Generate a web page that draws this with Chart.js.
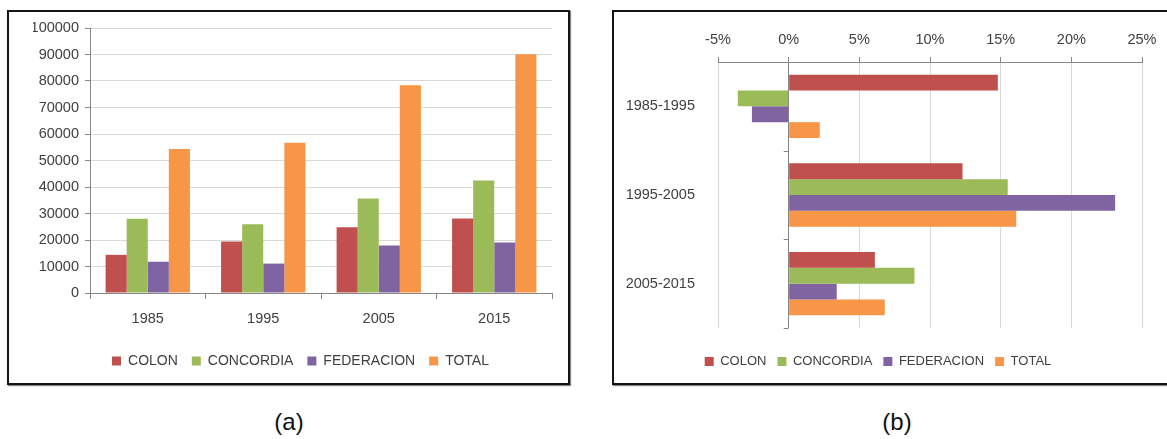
<!DOCTYPE html>
<html>
<head>
<meta charset="utf-8">
<script src="https://cdn.jsdelivr.net/npm/chart.js@4.4.1/dist/chart.umd.min.js"></script>
<style>
  html, body { margin: 0; padding: 0; background: #fff; }
  body { width: 1167px; height: 439px; overflow: hidden; position: relative; font-family: "Liberation Sans", Arial, sans-serif; }
  .box { position: absolute; top: 10px; height: 371px; border: 2px solid #141414; box-shadow: 1px 1px 1px #888; }
  #boxA { left: 7px; width: 559px; }
  #boxB { left: 612px; width: 600px; }
  .box canvas { display: block; }
  .cap { position: absolute; top: 408px; font-size: 24px; color: #111; transform: translateX(-50%); }
</style>
</head>
<body>
<div class="box" id="boxA"><canvas id="chartA" width="559" height="371"></canvas></div>
<div class="box" id="boxB"><canvas id="chartB" width="553" height="371"></canvas></div>
<div class="cap" style="left:289px">(a)</div>
<div class="cap" style="left:897px">(b)</div>
<script>
// population by year (a)
const years = ['1985', '1995', '2005', '2015'];
const colon = [14400, 19400, 24800, 28100];
const concordia = [28000, 25900, 35700, 42500];
const federacion = [11800, 11100, 17900, 19100];
const total = [54300, 56700, 78400, 90100];

// growth by period, in percent (b)
const periods = ['1985-1995', '1995-2005', '2005-2015'];
const colonPct = [14.8, 12.3, 6.1];
const concordiaPct = [-3.6, 15.5, 8.9];
const federacionPct = [-2.6, 23.1, 3.4];
const totalPct = [2.2, 16.1, 6.8];

const seriesNames = ['COLON', 'CONCORDIA', 'FEDERACION', 'TOTAL'];
const seriesColors = ['#C0504D', '#9BBB59', '#8064A2', '#F79646'];

const TEXT = '#404040';
const AXIS = '#868686';
const GRID = '#d9d9d9';
const FAMILY = '"Liberation Sans", Arial, sans-serif';
const tickFont = { family: FAMILY, size: 14.5 };

Chart.defaults.color = TEXT;
Chart.defaults.animation = false;

const makeDatasets = (arrays, catPct) => arrays.map((data, i) => ({
    label: seriesNames[i],
    data,
    backgroundColor: seriesColors[i],
    borderWidth: 0,
    barPercentage: 1,
    categoryPercentage: catPct,
}));

const legendOpts = (size, pad) => ({
    position: 'bottom',
    labels: { boxWidth: 9, boxHeight: 9, padding: pad, font: { family: FAMILY, size }, color: TEXT }
});

// empty axis used only to reserve space
const spacer = (position, size) => ({
    type: 'linear',
    position,
    grid: { display: false },
    border: { display: false },
    ticks: { display: false },
    afterFit: (s) => {
        if (position === 'left' || position === 'right') s.width = size;
        else s.height = size;
    }
});

new Chart(document.getElementById('chartA'), {
    type: 'bar',
    data: {
        labels: years,
        datasets: makeDatasets([colon, concordia, federacion, total], 0.73)
    },
    options: {
        responsive: false,
        devicePixelRatio: 1,
        layout: { padding: { top: 16, right: 0, bottom: 5, left: 24 } },
        plugins: { legend: legendOpts(14, 14), tooltip: { enabled: false } },
        scales: {
            x: {
                grid: { drawOnChartArea: false, offset: true, tickLength: 6, color: AXIS },
                border: { color: AXIS },
                ticks: { font: tickFont, color: TEXT, padding: 11 },
                afterFit: (s) => { s.height = 47; }
            },
            y: {
                min: 0,
                max: 100000,
                ticks: { stepSize: 10000, font: tickFont, color: TEXT, padding: 6, callback: (v) => String(v) },
                grid: { color: GRID, tickColor: AXIS, tickLength: 5 },
                border: { color: AXIS },
                afterFit: (s) => { s.width = 57; }
            },
            yr: spacer('right', 16)
        }
    }
});

// small tick marks on the 0% line between the period groups
const zeroLineTicks = {
    id: 'zeroLineTicks',
    afterDatasetsDraw(chart) {
        const xs = chart.scales.x, ys = chart.scales.y;
        const x0 = xs.getPixelForValue(0);
        const ctx = chart.ctx;
        ctx.save();
        ctx.strokeStyle = AXIS;
        ctx.lineWidth = 1;
        for (let i = 0; i <= periods.length; i++) {
            const y = Math.round(ys.getPixelForValue(i - 0.5)) + 0.5;
            ctx.beginPath();
            ctx.moveTo(x0 - 5, y);
            ctx.lineTo(x0, y);
            ctx.stroke();
        }
        ctx.restore();
    }
};

new Chart(document.getElementById('chartB'), {
    type: 'bar',
    data: {
        labels: periods,
        datasets: makeDatasets([colonPct, concordiaPct, federacionPct, totalPct], 0.714)
    },
    options: {
        indexAxis: 'y',
        responsive: false,
        devicePixelRatio: 1,
        layout: { padding: { top: 10, right: 25, bottom: 5, left: 0 } },
        plugins: { legend: legendOpts(13, 11), tooltip: { enabled: false } },
        scales: {
            x: {
                position: 'top',
                min: -5,
                max: 25,
                ticks: { stepSize: 5, font: tickFont, color: TEXT, padding: 8, callback: (v) => v + '%' },
                grid: {
                    color: (c) => (c.tick && c.tick.value === 0 ? AXIS : GRID),
                    tickColor: AXIS,
                    tickLength: 5
                },
                border: { color: AXIS },
                afterFit: (s) => { s.height = 40; }
            },
            xb: spacer('bottom', 16),
            y: {
                grid: { display: false },
                border: { display: false },
                ticks: { font: tickFont, color: TEXT, padding: 15 },
                afterFit: (s) => { s.width = 104; }
            }
        }
    },
    plugins: [zeroLineTicks]
});
</script>
</body>
</html>
